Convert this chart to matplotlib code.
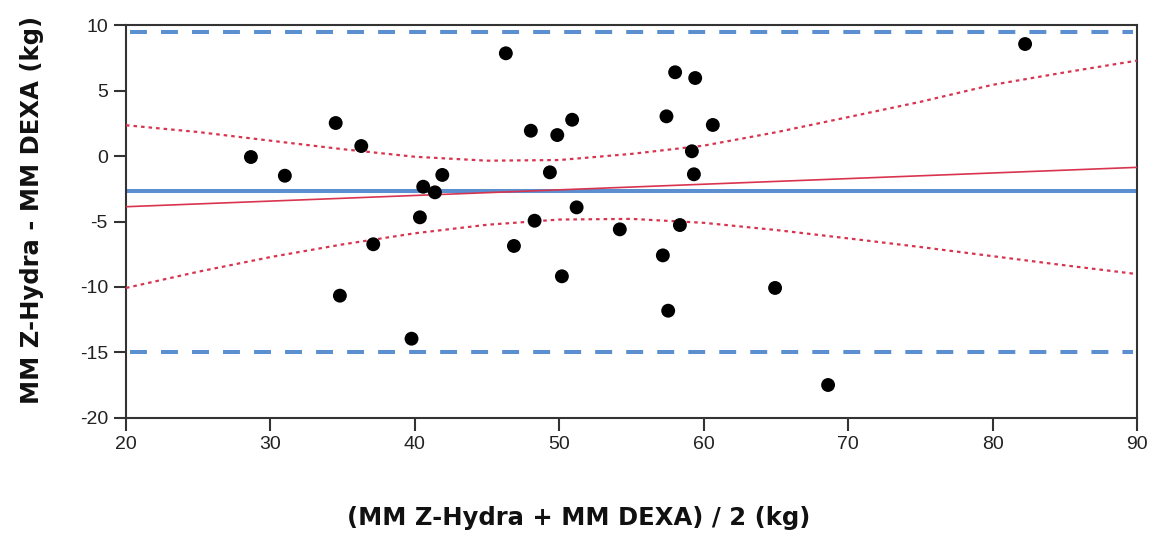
import matplotlib
matplotlib.use("Agg")
import matplotlib.pyplot as plt
import numpy as np

plt.rcParams["axes.unicode_minus"] = False

# ---- data ----
mean_x = [28.65, 31.0, 34.52, 36.29, 34.81, 37.12, 39.77, 40.35, 40.58, 41.39, 41.9,
          46.30, 48.03, 49.86, 50.89, 49.35, 51.20, 48.29, 46.86, 50.18, 54.19,
          58.02, 59.41, 57.42, 60.63, 59.18, 59.32, 58.35, 57.17, 57.54, 64.94,
          82.25, 68.61]
diff_y = [-0.07, -1.5, 2.53, 0.77, -10.67, -6.74, -13.96, -4.68, -2.34, -2.77, -1.44,
          7.86, 1.94, 1.61, 2.78, -1.24, -3.92, -4.94, -6.87, -9.19, -5.60,
          6.41, 5.97, 3.04, 2.38, 0.37, -1.39, -5.27, -7.59, -11.82, -10.08,
          8.57, -17.5]

bias = -2.67
loa_upper = 9.46
loa_lower = -14.98

reg_x = [20, 90]
reg_y = [-3.87, -0.86]

band_x = [20, 25, 30, 35, 40, 45, 50, 55, 60, 65, 70, 75, 80, 85, 90]
band_upper = [2.36, 1.84, 1.18, 0.53, -0.05, -0.35, -0.30, 0.17, 0.80, 1.82, 2.98, 4.15, 5.45, 6.40, 7.30]
band_lower = [-10.08, -8.84, -7.72, -6.75, -5.90, -5.25, -4.85, -4.80, -5.10, -5.65, -6.29, -6.95, -7.65, -8.35, -9.02]

x_ticks = [20, 30, 40, 50, 60, 70, 80, 90]
y_ticks = [-20, -15, -10, -5, 0, 5, 10]

# ---- styling ----
blue = "#5b8fd0"
red = "#d8344f"
tick_font = ["Liberation Sans", "DejaVu Sans"]
label_font = ["DejaVu Sans"]

fig = plt.figure(figsize=(11.6, 5.34), dpi=100)
ax = fig.add_axes([0.1086, 0.2178, 0.9802 - 0.1086, 0.9526 - 0.2178])

ax.set_xlim(20, 90)
ax.set_ylim(-20, 10)

# limits of agreement
ax.axhline(loa_upper, xmin=0.004, xmax=0.996, color=blue, lw=2.9, ls=(0, (4.2, 3.5)), zorder=2)
ax.axhline(loa_lower, xmin=0.004, xmax=0.996, color=blue, lw=2.9, ls=(0, (4.2, 3.5)), zorder=2)
ax.axhline(bias, xmin=0.003, xmax=0.997, color=blue, lw=2.9, zorder=2)

# regression line and confidence band
ax.plot(reg_x, reg_y, color=red, lw=1.2, zorder=3)
ax.plot(band_x, band_upper, color=red, lw=1.6, ls=(0, (1.6, 1.8)), zorder=3)
ax.plot(band_x, band_lower, color=red, lw=1.6, ls=(0, (1.6, 1.8)), zorder=3)

ax.scatter(mean_x, diff_y, s=100, color="black", edgecolors="none", zorder=4)

for sp in ax.spines.values():
    sp.set_linewidth(1.5)
    sp.set_color("#333333")

ax.set_xticks(x_ticks)
ax.set_yticks(y_ticks)
ax.tick_params(axis="both", direction="out", length=9, width=1.5, color="#333333",
               labelsize=14, pad=4, labelcolor="#222222")
for lab in ax.get_xticklabels() + ax.get_yticklabels():
    lab.set_family(tick_font)

fig.text(0.499, 0.030, "(MM Z-Hydra + MM DEXA) / 2 (kg)", ha="center", va="center",
         fontsize=17.5, fontweight="bold", family=label_font, color="#111111")
fig.text(0.028, 0.607, "MM Z-Hydra - MM DEXA (kg)", ha="center", va="center",
         rotation=90, fontsize=17.5, fontweight="bold", family=label_font, color="#111111")

fig.savefig("out.png", dpi=100)
